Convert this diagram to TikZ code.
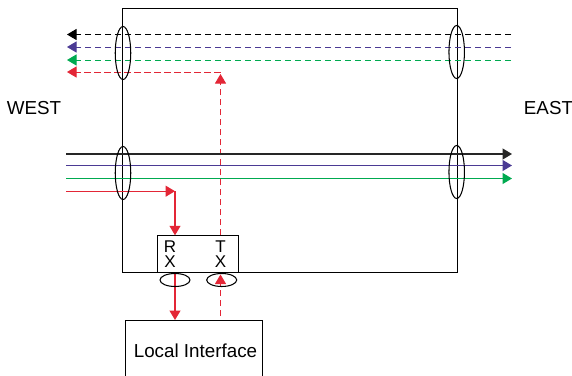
\documentclass[tikz,border=0pt]{standalone}
\usepackage{fontspec}
\setmainfont{Liberation Sans}
\usetikzlibrary{arrows.meta,shapes.geometric}
\definecolor{cred}{HTML}{E32636}
\definecolor{cpurple}{HTML}{4B3A94}
\definecolor{cgreen}{HTML}{00AA50}
\tikzset{
  x=1pt,y=-1pt,
  tip/.style={-{Triangle[length=9.5pt,width=11pt]}},
  wire/.style={line width=1.2pt},
  dashwire/.style={line width=1pt,dash pattern=on 6.5pt off 3.5pt},
  bundle/.style={draw=black,line width=1.05pt,ellipse,fill=none,inner sep=0pt},
  frame/.style={draw=black,line width=1.2pt,rectangle,inner sep=0pt},
  lbl/.style={font=\fontsize{18.8}{18.8}\selectfont,inner sep=0pt,text=black},
  stack/.style={font=\fontsize{17}{17}\selectfont,inner sep=0pt,text=black},
}
\begin{document}
\begin{tikzpicture}
\useasboundingbox (0,0) rectangle (572,375);
\clip (0,0) rectangle (572,375);
% main frame
\node[frame,minimum width=335pt,minimum height=264pt] (main) at (290,140.5) {};
% text labels
\node[lbl] (west) at (34,108) {WEST};
\node[lbl] (east) at (548.5,108) {EAST};
% transceiver box
\node[frame,fill=white,minimum width=81pt,minimum height=37pt] (box) at (198,254) {};
\node[stack] (rr) at (170,246.8) {R};
\node[stack] (rx) at (170,262) {X};
\node[stack] (tt) at (220.5,246.8) {T};
\node[stack] (tx) at (220.5,262) {X};
% local interface
\node[frame,lbl,minimum width=137pt,minimum height=60pt] (local) at (194,350.5) {\hspace{3pt}Local Interface};
% ends of wires
\foreach \n/\y in {a/34.5,b/47,c/60,d/72}{
  \coordinate (\n L) at (67,\y);
  \coordinate (\n R) at (511,\y);
}
\foreach \n/\y in {e/154,f/165.5,g/178.5}{
  \coordinate (\n L) at (66,\y);
  \coordinate (\n R) at (512,\y);
}
\coordinate (dR) at (220.5,72);
\coordinate (hL) at (66,191.2);
\coordinate (hC) at (175,191.2);
\coordinate (tUp) at (220.5,74);
\coordinate (rxTop) at (175,235.3);
\coordinate (rxOut) at (175,272.7);
\coordinate (localIn) at (175,320);
\coordinate (txBot) at (220.5,316);
\coordinate (txTop) at (220.5,274.5);
\coordinate (txStart) at (220.5,235.3);
% dashed west-going
\draw[dashwire,tip,black] (aR) -- (aL);
\draw[dashwire,tip,cpurple] (bR) -- (bL);
\draw[dashwire,tip,cgreen] (cR) -- (cL);
\draw[dashwire,tip,cred] (dR) -- (dL);
\draw[dashwire,tip,cred] (txStart) -- (tUp);
% solid east-going
\draw[wire,tip,black!85] (eL) -- (eR);
\draw[wire,tip,cpurple] (fL) -- (fR);
\draw[wire,tip,cgreen] (gL) -- (gR);
\draw[wire,tip,cred] (hL) -- (hC);
\draw[wire,tip,cred] (hC) -- (rxTop);
\draw[wire,tip,cred] (rxOut) -- (localIn);
\draw[dashwire,tip,cred] (txBot) -- (txTop);
% bundle loops
\node[bundle,minimum width=15.5pt,minimum height=53pt] (l1) at (123,53) {};
\node[bundle,minimum width=15.5pt,minimum height=53pt] (l2) at (456.7,52) {};
\node[bundle,minimum width=15.5pt,minimum height=53pt] (l3) at (123,173) {};
\node[bundle,minimum width=15.5pt,minimum height=53pt] (l4) at (456.7,172) {};
\node[bundle,minimum width=30pt,minimum height=13pt] (l5) at (175,280) {};
\node[bundle,minimum width=30pt,minimum height=13pt] (l6) at (221.7,280) {};
\end{tikzpicture}
\end{document}
